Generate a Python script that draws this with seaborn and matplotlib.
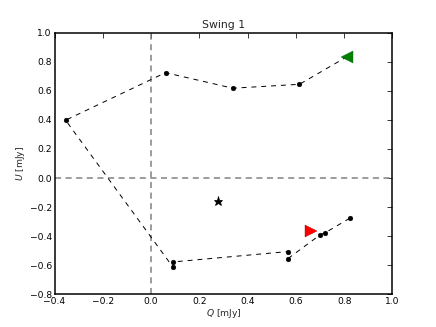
import seaborn as sns
import matplotlib
matplotlib.use("Agg")
import matplotlib.pyplot as plt
import pandas as pd

# Track of the swing in the Q-U plane (mJy)
q_track = [0.823, 0.720, 0.702, 0.566, 0.566, 0.093, 0.089, -0.354, 0.060, 0.339, 0.615, 0.812]
u_track = [-0.277, -0.378, -0.389, -0.556, -0.506, -0.577, -0.609, 0.398, 0.725, 0.618, 0.645, 0.835]
q_start, u_start = [0.662], [-0.367]
q_end, u_end = [0.812], [0.835]
q_star, u_star = [0.277], [-0.158]

track = pd.DataFrame({"Q": q_track, "U": u_track})

sns.set_style("white")
plt.rcParams.update({
    "font.family": ["DejaVu Sans"],
    "font.size": 12,
    "axes.linewidth": 2.0,
    "axes.edgecolor": "black",
    "xtick.direction": "in",
    "ytick.direction": "in",
    "xtick.top": True,
    "ytick.right": True,
    "xtick.major.size": 6,
    "ytick.major.size": 6,
    "xtick.major.width": 1.0,
    "ytick.major.width": 1.0,
    "xtick.color": "black",
    "ytick.color": "black",
    "mathtext.fontset": "dejavusans",
})

fig, ax = plt.subplots(figsize=(8, 6), dpi=54.5)
fig.subplots_adjust(left=0.125, right=0.9, bottom=0.1, top=0.9)

ax.axhline(0, color="gray", ls=(0, (4, 3)), lw=2.0, zorder=1)
ax.axvline(0, color="gray", ls=(0, (4, 3)), lw=2.0, zorder=1)

# dashed track with dots, the last point is the green end marker
sns.lineplot(data=track, x="Q", y="U", sort=False, estimator=None, ax=ax,
             color="black", lw=1.3, linestyle=(0, (5, 5)), zorder=2)
sns.scatterplot(data=track.iloc[:-1], x="Q", y="U", ax=ax, color="black",
                s=40, edgecolor="black", zorder=3)
ax.plot(q_start, u_start, marker=">", color="red", markersize=16, mec="darkred", mew=0.5, ls="none", zorder=4)
ax.plot(q_end, u_end, marker="<", color="green", markersize=16, mec="darkgreen", mew=0.5, ls="none", zorder=4)
ax.plot(q_star, u_star, marker="*", color="black", markersize=12, ls="none", zorder=4)

ax.set_xlim(-0.4, 1.0)
ax.set_ylim(-0.8, 1.0)
ax.set_xticks([-0.4, -0.2, 0.0, 0.2, 0.4, 0.6, 0.8, 1.0])
ax.set_yticks([-0.8, -0.6, -0.4, -0.2, 0.0, 0.2, 0.4, 0.6, 0.8, 1.0])
ax.set_xticklabels(["\u22120.4", "\u22120.2", "0.0", "0.2", "0.4", "0.6", "0.8", "1.0"])
ax.set_yticklabels(["\u22120.8", "\u22120.6", "\u22120.4", "\u22120.2", "0.0", "0.2", "0.4", "0.6", "0.8", "1.0"])
ax.set_xlabel("$Q$ [mJy]", labelpad=2)
ax.set_ylabel("$U$ [mJy]")
ax.set_title("Swing 1")

fig.savefig("out.png", dpi=54.5)
